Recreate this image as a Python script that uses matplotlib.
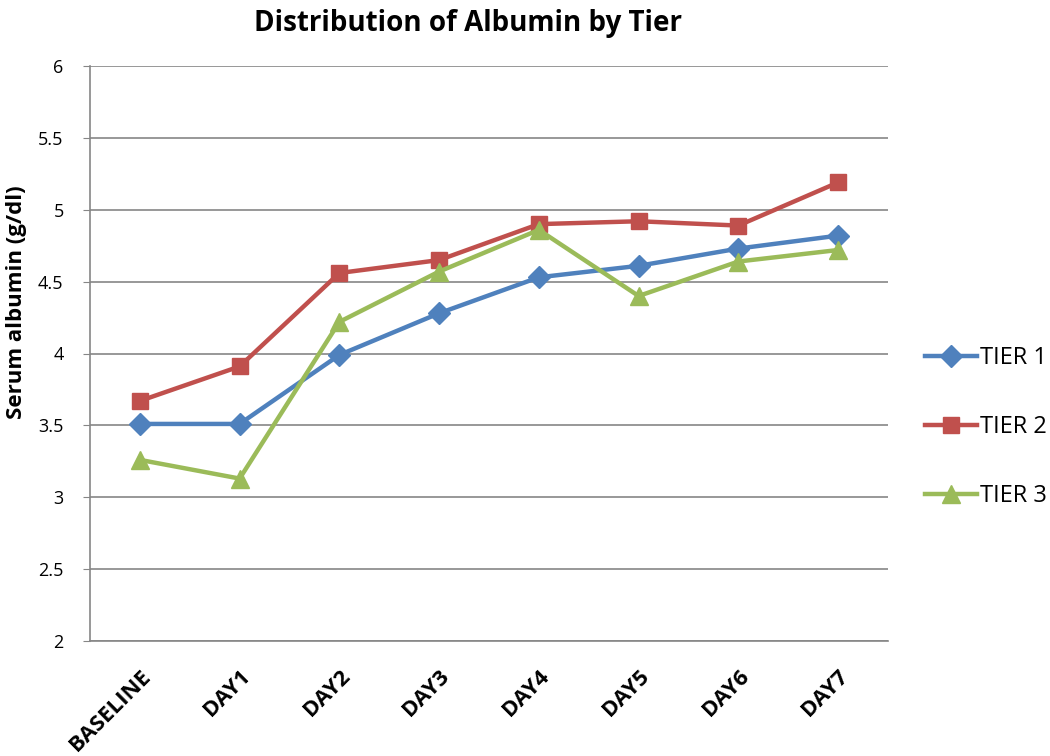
import matplotlib
matplotlib.use("Agg")
import matplotlib.pyplot as plt

categories = ["BASELINE", "DAY1", "DAY2", "DAY3", "DAY4", "DAY5", "DAY6", "DAY7"]
tier1 = [3.51, 3.51, 3.99, 4.28, 4.53, 4.61, 4.73, 4.82]
tier2 = [3.67, 3.91, 4.56, 4.65, 4.90, 4.92, 4.89, 5.19]
tier3 = [3.26, 3.13, 4.22, 4.57, 4.86, 4.40, 4.64, 4.72]
series_names = ["TIER 1", "TIER 2", "TIER 3"]
y_ticks = [2, 2.5, 3, 3.5, 4, 4.5, 5, 5.5, 6]
y_ticklabels = ["2", "2.5", "3", "3.5", "4", "4.5", "5", "5.5", "6"]

plt.rcParams['font.family'] = ['Open Sans', 'DejaVu Sans']

fig = plt.figure(figsize=(10.5, 7.56), dpi=100)
ax = fig.add_axes([90/1050, 1-641/756, (888-90)/1050, (641-66)/756])

x = list(range(len(categories)))
styles = [("#4F81BD", "D", 11), ("#C0504D", "s", 12), ("#9BBB59", "^", 13)]
for vals, name, (c, m, ms) in zip([tier1, tier2, tier3], series_names, styles):
    ax.plot(x, vals, color=c, marker=m, markersize=ms, linewidth=3.2, label=name,
            markeredgecolor=c, zorder=3)

ax.set_xlim(-0.5, len(categories) - 0.5)
ax.set_ylim(2, 6)
ax.set_yticks(y_ticks)
ax.set_yticklabels(y_ticklabels, fontsize=13)
ax.set_xticks(x)
ax.set_xticklabels(categories, rotation=45, ha="right", rotation_mode="anchor",
                   fontsize=16, fontweight="bold")
ax.tick_params(axis="x", length=0, pad=18)
ax.tick_params(axis="y", length=5, color="#868686", pad=14)
ax.grid(axis="y", color="#868686", linewidth=1.2, zorder=0)
for s in ["top", "right"]:
    ax.spines[s].set_visible(False)
for s in ["left", "bottom"]:
    ax.spines[s].set_color("#868686")
    ax.spines[s].set_linewidth(1.2)

ax.set_ylabel("Serum albumin (g/dl)", fontsize=16, fontweight="bold")
ax.yaxis.set_label_coords((27-90)/798, (641-302)/575)
fig.text(468/1050, 1-24/756, "Distribution of Albumin by Tier", ha="center", va="center",
         fontsize=20, fontweight="bold")

leg = fig.legend(loc="center left", bbox_to_anchor=(925/1050, 1-427/756),
                 frameon=False, fontsize=17, handlelength=2.2, labelspacing=1.9,
                 handletextpad=0.15, borderpad=0, borderaxespad=0)
fig.savefig("out.png", dpi=100)
